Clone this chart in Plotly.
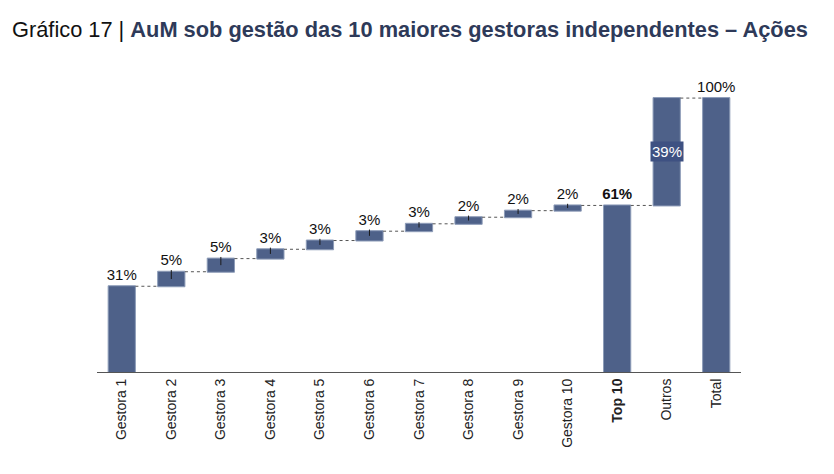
import plotly.graph_objects as go

categories = ["Gestora 1", "Gestora 2", "Gestora 3", "Gestora 4", "Gestora 5",
              "Gestora 6", "Gestora 7", "Gestora 8", "Gestora 9", "Gestora 10",
              "Top 10", "Outros", "Total"]
gestora_values = [31.3, 5.3, 4.8, 3.4, 3.2, 3.4, 2.7, 2.4, 2.4, 1.9]
outros_value = 39.2
tick_labels = ["Gestora 1", "Gestora 2", "Gestora 3", "Gestora 4", "Gestora 5",
               "Gestora 6", "Gestora 7", "Gestora 8", "Gestora 9", "Gestora 10",
               "<b>Top 10</b>", "Outros", "Total"]

top10 = sum(gestora_values)
total = top10 + outros_value

measures = ["relative"] * 10 + ["total", "relative", "total"]
values = gestora_values + [0, outros_value, 0]
texts = [f"{v:.0f}%" for v in gestora_values] + [f"<b>{top10:.0f}%</b>", "", f"{total:.0f}%"]

BAR = "#4E6189"
EDGE = "#8D9CB8"

fig = go.Figure()
fig.add_trace(go.Waterfall(
    x=categories, y=values, measure=measures,
    text=texts, textposition="outside", constraintext="none",
    textfont=dict(size=15, color="#111111"),
    outsidetextfont=dict(size=15, color="#111111"),
    cliponaxis=False,
    increasing=dict(marker=dict(color=BAR, line=dict(color=EDGE, width=1))),
    decreasing=dict(marker=dict(color=BAR, line=dict(color=EDGE, width=1))),
    totals=dict(marker=dict(color=BAR, line=dict(color=EDGE, width=1))),
    connector=dict(mode="between", line=dict(color="#555555", width=1, dash="dot")),
    hoverinfo="skip", showlegend=False,
))

# leader ticks from bar middle to just above bar top
lx, ly = [], []
base = gestora_values[0]
for cat, v in zip(categories[1:10], gestora_values[1:]):
    lx += [cat, cat, None]
    ly += [base + v / 2, base + v + 0.6, None]
    base += v
fig.add_trace(go.Scatter(x=lx, y=ly, mode="lines", line=dict(color="#1a1a1a", width=1),
                         hoverinfo="skip", showlegend=False))

fig.add_annotation(x="Outros", y=top10 + outros_value / 2, text=f"{outros_value:.0f}%",
                   showarrow=False, font=dict(size=15, color="white"),
                   bgcolor="#3E5182", borderpad=1)

fig.update_layout(
    width=834, height=474,
    margin=dict(l=97, r=93, t=60, b=102),
    paper_bgcolor="white", plot_bgcolor="white",
    font=dict(family="Liberation Sans, Arial, sans-serif", size=14, color="#111111"),
    waterfallgap=0.45,
    title=dict(
        text="Gráfico 17 | <b><span style='color:#2E3A59'>AuM sob gestão das 10 maiores gestoras independentes – Ações</span></b>",
        x=12 / 834, xanchor="left", xref="container",
        y=1 - 29 / 474, yanchor="middle", yref="container",
        font=dict(size=21.8, color="#111111", family="Liberation Sans, Arial, sans-serif"),
    ),
    xaxis=dict(
        tickmode="array", tickvals=categories, ticktext=tick_labels,
        tickangle=-90, showline=True, linecolor="#555555", linewidth=1,
        ticks="", showgrid=False, tickfont=dict(size=14, color="#222222"),
    ),
    yaxis=dict(range=[0, 113.9], visible=False, showgrid=False, zeroline=False),
)

fig.write_html("out.html")
